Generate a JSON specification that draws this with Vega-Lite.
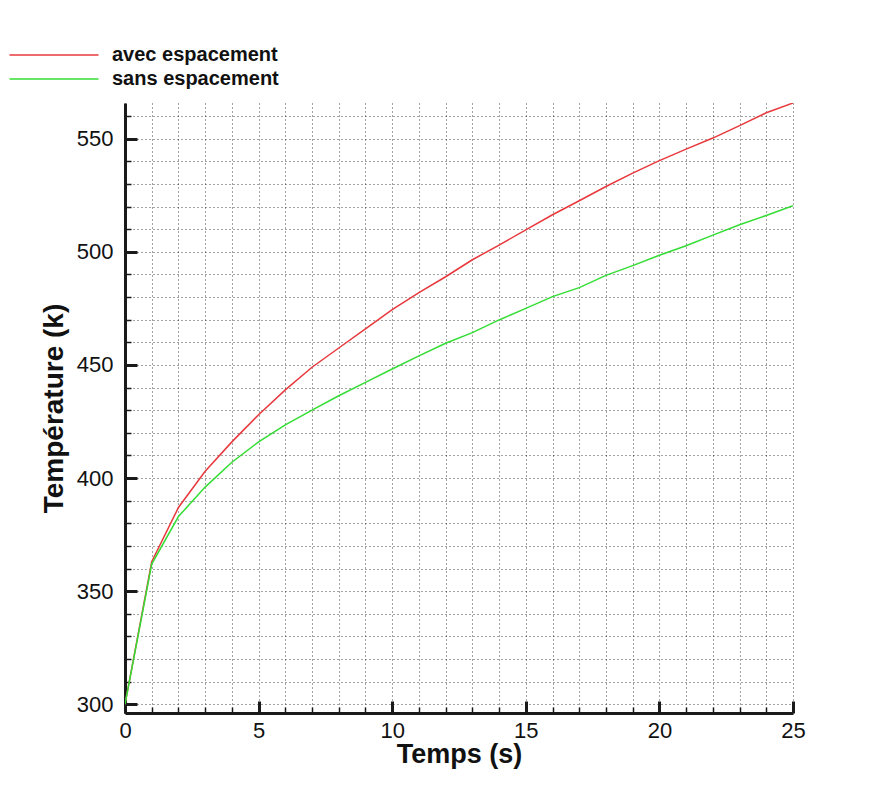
{
  "$schema": "https://vega.github.io/schema/vega-lite/v6.json",
  "width": 668,
  "height": 610,
  "autosize": "none",
  "padding": {"left": 125, "top": 103, "right": 93, "bottom": 83},
  "background": "white",
  "config": {
    "font": "Liberation Sans",
    "view": {"stroke": null},
    "axis": {"labelFont": "Liberation Sans", "titleFont": "Liberation Sans"}
  },
  "data": {
    "values": [
      {"t": 0, "T": 300, "serie": "avec espacement"},
      {"t": 1, "T": 363, "serie": "avec espacement"},
      {"t": 2, "T": 387, "serie": "avec espacement"},
      {"t": 3, "T": 403, "serie": "avec espacement"},
      {"t": 4, "T": 416, "serie": "avec espacement"},
      {"t": 5, "T": 428, "serie": "avec espacement"},
      {"t": 6, "T": 439, "serie": "avec espacement"},
      {"t": 7, "T": 449, "serie": "avec espacement"},
      {"t": 8, "T": 457.5, "serie": "avec espacement"},
      {"t": 9, "T": 466, "serie": "avec espacement"},
      {"t": 10, "T": 474.5, "serie": "avec espacement"},
      {"t": 11, "T": 482, "serie": "avec espacement"},
      {"t": 12, "T": 489, "serie": "avec espacement"},
      {"t": 13, "T": 496.5, "serie": "avec espacement"},
      {"t": 14, "T": 503, "serie": "avec espacement"},
      {"t": 15, "T": 509.7, "serie": "avec espacement"},
      {"t": 16, "T": 516.4, "serie": "avec espacement"},
      {"t": 17, "T": 522.6, "serie": "avec espacement"},
      {"t": 18, "T": 528.9, "serie": "avec espacement"},
      {"t": 19, "T": 534.8, "serie": "avec espacement"},
      {"t": 20, "T": 540.3, "serie": "avec espacement"},
      {"t": 21, "T": 545.4, "serie": "avec espacement"},
      {"t": 22, "T": 550.3, "serie": "avec espacement"},
      {"t": 23, "T": 555.8, "serie": "avec espacement"},
      {"t": 24, "T": 561.5, "serie": "avec espacement"},
      {"t": 25, "T": 565.8, "serie": "avec espacement"},
      {"t": 0, "T": 300, "serie": "sans espacement"},
      {"t": 1, "T": 362, "serie": "sans espacement"},
      {"t": 2, "T": 383, "serie": "sans espacement"},
      {"t": 3, "T": 396, "serie": "sans espacement"},
      {"t": 4, "T": 407, "serie": "sans espacement"},
      {"t": 5, "T": 416, "serie": "sans espacement"},
      {"t": 6, "T": 423.5, "serie": "sans espacement"},
      {"t": 7, "T": 430, "serie": "sans espacement"},
      {"t": 8, "T": 436.4, "serie": "sans espacement"},
      {"t": 9, "T": 442.3, "serie": "sans espacement"},
      {"t": 10, "T": 448.2, "serie": "sans espacement"},
      {"t": 11, "T": 454, "serie": "sans espacement"},
      {"t": 12, "T": 459.6, "serie": "sans espacement"},
      {"t": 13, "T": 464.3, "serie": "sans espacement"},
      {"t": 14, "T": 469.9, "serie": "sans espacement"},
      {"t": 15, "T": 475, "serie": "sans espacement"},
      {"t": 16, "T": 480.2, "serie": "sans espacement"},
      {"t": 17, "T": 484.2, "serie": "sans espacement"},
      {"t": 18, "T": 489.6, "serie": "sans espacement"},
      {"t": 19, "T": 493.9, "serie": "sans espacement"},
      {"t": 20, "T": 498.5, "serie": "sans espacement"},
      {"t": 21, "T": 502.7, "serie": "sans espacement"},
      {"t": 22, "T": 507.4, "serie": "sans espacement"},
      {"t": 23, "T": 512, "serie": "sans espacement"},
      {"t": 24, "T": 516.1, "serie": "sans espacement"},
      {"t": 25, "T": 520.4, "serie": "sans espacement"}
    ]
  },
  "resolve": {"axis": {"x": "independent", "y": "independent"}},
  "layer": [
    {
      "mark": {"type": "line", "strokeWidth": 1.5, "clip": true},
      "encoding": {
        "x": {
          "field": "t", "type": "quantitative",
          "scale": {"domain": [0, 25], "nice": false, "zero": false},
          "axis": {
            "orient": "bottom",
            "values": [0,1,2,3,4,5,6,7,8,9,10,11,12,13,14,15,16,17,18,19,20,21,22,23,24,25],
            "labelExpr": "datum.value % 5 === 0 ? datum.label : ''",
            "grid": true, "gridDash": [1, 3], "gridColor": "#333", "gridWidth": 1, "gridOpacity": 0.9,
            "domain": true, "domainColor": "#1a1a1a", "domainWidth": 3,
            "ticks": false,
            "labelFontSize": 22, "labelColor": "#111", "labelPadding": 7, "labelFlush": false, "labelOverlap": false,
            "title": "Temps (s)", "titleFontSize": 27, "titleFontWeight": "bold", "titleColor": "#111", "titlePadding": 0
          }
        },
        "y": {
          "field": "T", "type": "quantitative",
          "scale": {"domain": [296.15, 565.8], "nice": false, "zero": false},
          "axis": {
            "orient": "left",
            "values": [300,310,320,330,340,350,360,370,380,390,400,410,420,430,440,450,460,470,480,490,500,510,520,530,540,550,560],
            "labelExpr": "datum.value % 50 === 0 ? datum.label : ''",
            "grid": true, "gridDash": [1, 3], "gridColor": "#333", "gridWidth": 1, "gridOpacity": 0.9,
            "domain": true, "domainColor": "#1a1a1a", "domainWidth": 3,
            "ticks": false,
            "labelFontSize": 22, "labelColor": "#111", "labelPadding": 12, "labelFlush": false, "labelOverlap": false,
            "title": "Température (k)", "titleFontSize": 28, "titleFontWeight": "bold", "titleColor": "#111", "titlePadding": 8
          }
        },
        "color": {
          "field": "serie", "type": "nominal",
          "scale": {"domain": ["avec espacement", "sans espacement"], "range": ["#e8383d", "#33dd33"]},
          "legend": {
            "orient": "none", "legendX": -83, "legendY": -60,
            "title": null, "symbolType": "M-4,0H4", "symbolSize": 495, "symbolStrokeWidth": 1.5,
            "labelFontSize": 20, "labelFontWeight": "bold", "labelColor": "#111", "labelOffset": 46, "labelLimit": 400,
            "rowPadding": 2, "padding": 0
          }
        }
      }
    },
    {
      "mark": {"type": "line", "opacity": 0},
      "encoding": {
        "x": {
          "field": "t", "type": "quantitative",
          "axis": {
            "orient": "bottom", "values": [0, 5, 10, 15, 20, 25], "offset": -12,
            "grid": false, "domain": false, "labels": false, "title": null,
            "ticks": true, "tickSize": 12, "tickColor": "#1a1a1a", "tickWidth": 3
          }
        },
        "y": {
          "field": "T", "type": "quantitative",
          "axis": {
            "orient": "left", "values": [300, 350, 400, 450, 500, 550], "offset": -12,
            "grid": false, "domain": false, "labels": false, "title": null,
            "ticks": true, "tickSize": 12, "tickColor": "#1a1a1a", "tickWidth": 3
          }
        },
        "detail": {"field": "serie", "type": "nominal"}
      }
    },
    {
      "mark": {"type": "line", "opacity": 0},
      "encoding": {
        "x": {
          "field": "t", "type": "quantitative",
          "axis": {
            "orient": "bottom", "offset": -6,
            "values": [0,1,2,3,4,6,7,8,9,11,12,13,14,16,17,18,19,21,22,23,24],
            "grid": false, "domain": false, "labels": false, "title": null,
            "ticks": true, "tickSize": 6, "tickColor": "#1a1a1a", "tickWidth": 1.5
          }
        },
        "y": {
          "field": "T", "type": "quantitative",
          "axis": {
            "orient": "left", "offset": -6,
            "values": [310,320,330,340,360,370,380,390,410,420,430,440,460,470,480,490,510,520,530,540,560],
            "grid": false, "domain": false, "labels": false, "title": null,
            "ticks": true, "tickSize": 6, "tickColor": "#1a1a1a", "tickWidth": 1.5
          }
        },
        "detail": {"field": "serie", "type": "nominal"}
      }
    }
  ]
}
